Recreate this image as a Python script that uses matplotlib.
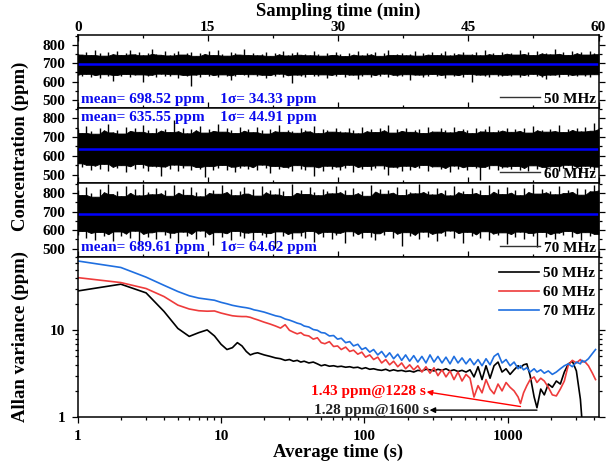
import numpy as np
import matplotlib
matplotlib.use('Agg')
import matplotlib.pyplot as plt
from matplotlib.lines import Line2D
from matplotlib.ticker import MultipleLocator, LogLocator, NullFormatter

plt.rcParams['font.family'] = ['Liberation Serif', 'DejaVu Serif']
plt.rcParams['font.weight'] = 'bold'

# ---------------- data: concentration time series (envelope max / min per time bin, ppm)
hi50 = [752,748,760,745,771,755,742,763,750,768,746,758,774,749,761,744,757,780,752,747,
        765,743,756,769,748,754,762,741,758,751,766,745,773,750,742,760,755,748,777,746,
        759,744,752,764,741,757,749,770,743,755,761,747,753,744,766,750,742,758,746,760,
        752,740,757,748,768,743,755,749,762,741,756,772,746,753,759,744,750,765,742,757,
        748,761,745,754,770,743,758,749,763,747,752,760,744,771,750,757,746,764,753,759,
        748,775,751,762,745,768,754,758,749,780,752,760,746,770,755,763,748,766,757,750]
lo50 = [638,630,642,627,635,619,640,632,604,636,628,641,625,634,639,598,631,637,626,643,
        633,629,640,622,636,631,575,638,627,642,630,635,624,639,633,610,628,641,634,626,
        640,632,637,621,635,629,643,627,634,590,638,630,625,641,633,628,639,620,636,631,
        642,627,634,638,612,630,640,626,635,629,643,624,637,632,628,640,606,634,638,627,
        633,641,629,636,622,639,631,635,627,642,600,634,638,630,625,640,633,628,637,631,
        639,624,636,629,642,632,627,615,638,634,626,641,630,636,628,639,633,625,640,632]
hi60 = [745,722,760,731,718,748,736,772,725,740,719,755,733,746,728,765,738,721,750,735,
        742,727,790,731,748,720,744,736,758,724,741,733,769,729,747,738,722,755,734,743,
        726,752,737,719,745,731,762,728,740,735,723,749,738,730,757,721,744,736,729,751,
        733,725,746,739,720,754,731,742,727,748,736,763,724,741,733,750,728,738,745,722,
        752,734,729,747,740,725,756,732,743,737,721,749,730,744,760,726,739,735,751,728,
        742,733,748,724,757,736,740,729,745,732,766,727,741,738,750,730,755,734,776,743]
lo60 = [560,538,552,526,548,530,557,519,541,535,550,512,544,528,556,533,520,547,538,495,
        543,529,553,518,536,549,525,540,531,485,545,522,537,551,527,542,516,534,548,530,
        539,524,553,533,507,546,528,541,535,519,550,532,526,544,490,538,521,547,530,543,
        527,536,552,514,540,531,546,523,537,549,529,500,542,534,518,547,526,540,533,551,
        520,538,544,529,535,512,548,531,539,525,545,533,470,541,528,550,522,537,543,530,
        546,526,535,519,549,532,541,527,538,545,521,534,552,529,540,514,547,536,525,542]
hi70 = [815,790,832,800,781,825,805,848,795,812,784,838,802,820,788,852,808,794,826,799,
        817,786,842,803,822,791,835,809,783,829,801,815,797,846,806,824,789,812,833,798,
        820,787,840,804,816,793,828,810,785,850,802,819,796,834,807,789,823,812,799,841,
        805,818,791,830,800,813,786,845,809,824,797,816,803,836,790,821,808,799,852,806,
        814,793,828,802,819,788,839,805,811,796,826,801,817,790,843,808,823,795,831,803,
        815,789,827,806,849,798,820,804,812,794,837,801,818,807,829,792,822,810,842,815]
lo70 = [572,595,560,585,548,590,566,578,540,593,570,582,556,597,512,580,563,588,551,594,
        575,559,586,530,592,568,580,555,598,565,577,520,589,562,583,549,596,571,558,587,
        545,590,574,561,584,505,593,567,579,553,588,570,560,595,538,582,565,591,554,576,
        586,528,594,569,578,557,590,564,547,583,572,596,558,581,515,589,566,575,552,592,
        563,580,543,587,571,598,556,584,533,591,567,577,560,594,548,582,573,588,525,579,
        565,592,555,585,570,508,590,561,578,550,587,574,595,562,583,546,589,568,580,575]

means = [698.52, 635.55, 689.61]
sigmas = [34.33, 44.91, 64.62]
freqs = ['50 MHz', '60 MHz', '70 MHz']
time_ticks = [0, 15, 30, 45, 60]

# ---------------- data: Allan deviation
tau = [1, 2, 3, 4, 5, 6, 7, 8, 9, 10,
       11, 12, 13, 14, 15, 16, 17, 18, 20, 22,
       24, 26, 28, 30, 32, 34, 36, 38, 41, 44,
       47, 50, 53, 57, 61, 65, 69, 74, 79, 84,
       90, 96, 102, 109, 116, 124, 132, 141, 150, 160,
       171, 182, 194, 207, 221, 236, 252, 269, 287, 306,
       326, 348, 371, 396, 422, 450, 480, 512, 546, 582,
       621, 662, 706, 753, 803, 856, 913, 974, 1039, 1108,
       1182, 1228, 1290, 1360, 1434, 1529, 1600, 1700, 1800, 1920,
       2048, 2184, 2329, 2484, 2650, 2826, 3014, 3215, 3300, 3429,
       3657, 3900, 4100]
adev50 = [28.4, 34, 27, 16.5, 10.5, 8.5, 9.4, 10.1, 8.6, 6.9,
          6.0, 6.3, 7.2, 6.6, 5.7, 5.2, 5.4, 5.5, 5.2, 5.0,
          4.8, 4.7, 4.5, 4.6, 4.4, 4.5, 4.3, 4.4, 4.2, 4.3,
          4.1, 3.9, 4.0, 3.85, 3.9, 3.8, 3.85, 3.75, 3.8, 3.7,
          3.75, 3.6, 3.7, 3.55, 3.6, 3.5, 3.45, 3.55, 3.4, 3.5,
          3.4, 3.45, 3.35, 3.4, 3.3, 3.45, 3.4, 3.55, 3.5, 3.4,
          3.55, 3.45, 3.6, 3.4, 3.5, 3.35, 3.45, 3.3, 3.5, 2.9,
          3.8, 2.7, 3.9, 2.8, 3.9, 4.3, 3.3, 3.6, 3.1, 3.5,
          3.9, 3.7, 4.0, 4.1, 3.0, 1.7, 1.28, 2.1, 1.8, 2.4,
          2.2, 2.6, 2.4, 3.3, 4.1, 4.4, 3.4, 1.6, 0.9, np.nan,
          np.nan, np.nan, np.nan]
adev60 = [40.5, 35.5, 30.3, 24.5, 19.5, 17.6, 16.8, 16.6, 16.7, 15.8,
          15.2, 14.7, 14.5, 14.4, 14.4, 14.1, 13.6, 13.2, 12.4, 11.8,
          11.2, 10.6, 11.6, 10.0, 9.5, 9.1, 9.4, 8.8, 8.6, 7.9,
          8.2, 7.2, 7.0, 7.4, 6.5, 6.6, 6.0, 6.4, 5.7, 5.9,
          5.3, 5.6, 4.9, 5.2, 4.6, 4.9, 4.2, 4.6, 4.0, 4.4,
          3.8, 4.2, 3.6, 4.0, 3.5, 3.9, 3.3, 3.8, 3.2, 3.7,
          3.0, 3.5, 2.9, 3.4, 2.7, 3.3, 2.6, 3.1, 2.8, 1.7,
          2.3, 1.9, 2.7, 2.1, 1.85, 2.4, 2.0, 2.5, 2.2, 2.0,
          1.7, 1.43, 1.9, 2.3, 2.7, 2.9, 2.5, 2.8, 2.6, 2.2,
          1.8, 1.75, 2.1, 2.6, 4.0, 4.5, 4.2, 4.6, 4.3, 4.4,
          3.9, 3.2, 2.7]
adev70 = [63, 53, 41, 33, 28, 25, 23.5, 22.8, 22.2, 21,
          20.2, 19.4, 18.9, 18.5, 18.2, 17.8, 17.2, 16.9, 16.2, 15.4,
          14.7, 14.3, 13.5, 13.1, 12.6, 12.1, 11.8, 11.2, 10.9, 10.2,
          10.0, 9.4, 9.3, 8.6, 8.7, 7.9, 8.1, 7.2, 7.4, 6.6,
          6.9, 6.0, 6.3, 5.6, 6.0, 5.2, 5.7, 4.9, 5.5, 4.7,
          5.3, 4.5, 5.2, 4.4, 5.1, 4.3, 5.0, 4.2, 5.2, 4.3,
          5.0, 4.2, 4.9, 4.1, 5.0, 4.2, 4.8, 4.1, 4.7, 4.0,
          4.6, 3.9, 4.7, 4.0, 5.0, 5.4, 4.2, 4.6, 3.9, 4.3,
          3.6, 3.9, 3.5, 3.7, 3.3, 3.6, 3.3, 3.5, 3.2, 3.4,
          3.1, 3.3, 3.6, 3.9, 4.1, 3.8, 4.3, 4.1, 4.5, 4.3,
          4.7, 5.4, 6.0]

# annotations
ann_red = (1228, 1.43, '1.43 ppm@1228 s')
ann_blk = (1600, 1.28, '1.28 ppm@1600 s')

# ---------------- style
BLUE_TXT = '#0a0aee'
RED = '#ee3b3b'
BLUE = '#1f6fe0'
FS = 11

fig = plt.figure(figsize=(6.08, 4.62), dpi=100)
L, R = 77.7 / 608, 598.5 / 608
W = R - L
H = 462.0
edges = [35, 108, 183, 257, 417]
axes = []
for i in range(3):
    b = 1 - edges[i + 1] / H
    t = 1 - edges[i] / H
    axes.append(fig.add_axes([L, b, W, t - b]))
ax4 = fig.add_axes([L, 1 - edges[4] / H, W, (edges[4] - edges[3]) / H])

his = [hi50, hi60, hi70]
los = [lo50, lo60, lo70]
text_pos = [(0.006, 0.11), (0.006, 0.88), (0.006, 0.135)]

for i, ax in enumerate(axes):
    hi = np.asarray(his[i], float)
    lo = np.asarray(los[i], float)
    t = np.linspace(0, 60, len(hi))
    # dense core: neighbourhood min of maxima / max of minima
    core_hi = np.minimum(hi, np.minimum(np.r_[hi[1:], hi[-1]], np.r_[hi[0], hi[:-1]]))
    core_lo = np.maximum(lo, np.maximum(np.r_[lo[1:], lo[-1]], np.r_[lo[0], lo[:-1]]))
    ax.fill_between(t, core_lo, core_hi, color='k', lw=0.6)
    ax.vlines(t, lo, hi, color='k', lw=1.0)
    ax.axhline(means[i], color='#0000ff', lw=1.8)
    ax.set_xlim(0, 60)
    ax.set_ylim(455, 855)
    ax.set_yticks([500, 600, 700, 800])
    ax.yaxis.set_minor_locator(MultipleLocator(50))
    ax.set_xticks(time_ticks)
    ax.xaxis.set_minor_locator(MultipleLocator(7.5))
    ax.tick_params(axis='y', which='both', direction='out', left=True, right=True,
                   labelsize=FS, pad=4.5, width=0.9)
    ax.tick_params(axis='y', which='major', length=4.5)
    ax.tick_params(axis='y', which='minor', length=2.5)
    ax.tick_params(axis='x', which='both', direction='in', bottom=True, top=(i == 0),
                   labelbottom=False, labeltop=(i == 0), labelsize=FS, pad=1.0, width=0.9)
    ax.tick_params(axis='x', which='major', length=4.5)
    ax.tick_params(axis='x', which='minor', length=2.5)
    for s in ax.spines.values():
        s.set_linewidth(1.1)
    x0, y0 = text_pos[i]
    ax.text(x0, y0, 'mean= %.2f ppm    1σ= %.2f ppm' % (means[i], sigmas[i]),
            transform=ax.transAxes, color=BLUE_TXT, fontsize=FS, fontweight='bold',
            va='center', ha='left')
    ax.legend(handles=[Line2D([], [], color='#333333', lw=1.0)], labels=[freqs[i]],
              loc='lower right', frameon=False, borderaxespad=0.0, borderpad=0.15,
              handlelength=2.6, handletextpad=0.3, prop={'size': FS, 'weight': 'bold'})

# ---------------- Allan panel
ax4.plot(tau, adev50, color='k', lw=1.2, label=freqs[0])
ax4.plot(tau, adev60, color=RED, lw=1.2, label=freqs[1])
ax4.plot(tau, adev70, color=BLUE, lw=1.2, label=freqs[2])
ax4.set_xscale('log')
ax4.set_yscale('log')
ax4.set_xlim(1, 4300)
ax4.set_ylim(1, 70)
ax4.set_xticks([1, 10, 100, 1000])
ax4.set_xticklabels(['1', '10', '100', '1000'])
ax4.set_yticks([1, 10])
ax4.set_yticklabels(['1', '10'])
ax4.xaxis.set_minor_locator(LogLocator(base=10, subs=range(2, 10), numticks=20))
ax4.yaxis.set_minor_locator(LogLocator(base=10, subs=range(2, 10), numticks=20))
ax4.xaxis.set_minor_formatter(NullFormatter())
ax4.yaxis.set_minor_formatter(NullFormatter())
ax4.tick_params(axis='both', which='both', direction='out', labelsize=FS, width=0.9)
ax4.tick_params(axis='y', which='both', right=True, pad=4.5)
ax4.tick_params(axis='x', which='both', top=False, pad=4.5)
ax4.tick_params(which='major', length=4.5)
ax4.tick_params(which='minor', length=2.5)
for s in ax4.spines.values():
    s.set_linewidth(1.1)
ax4.legend(loc='upper right', bbox_to_anchor=(1.0, 0.96), frameon=False,
           borderaxespad=0.0, borderpad=0.2,
           handlelength=2.6, handletextpad=0.3, labelspacing=0.35,
           prop={'size': FS, 'weight': 'bold'})

ax4.annotate('', xy=(272, 1.95), xytext=(ann_red[0], 1.32),
             arrowprops=dict(arrowstyle='-|>', color='red', lw=1.0, mutation_scale=8,
                             shrinkA=0, shrinkB=0))
ax4.text(268, 1.95, ann_red[2], color='red', fontsize=FS, fontweight='bold', ha='right', va='center')
ax4.annotate('', xy=(285, 1.2), xytext=(ann_blk[0], 1.2),
             arrowprops=dict(arrowstyle='-|>', color='k', lw=1.0, mutation_scale=8,
                             shrinkA=0, shrinkB=0))
ax4.text(281, 1.2, ann_blk[2], color='#222222', fontsize=FS, fontweight='bold', ha='right', va='center')

ax4.set_xlabel('Average time (s)', fontsize=13.5, fontweight='bold', labelpad=1)

fig.text(338 / 608, 1 - 11 / H, 'Sampling time (min)', fontsize=13.5, fontweight='bold',
         ha='center', va='center')
fig.text(20 / 608, 1 - 146 / H, 'Concentration (ppm)', fontsize=13.5, fontweight='bold',
         rotation=90, ha='center', va='center')
fig.text(20 / 608, 1 - 337 / H, 'Allan variance (ppm)', fontsize=13.5, fontweight='bold',
         rotation=90, ha='center', va='center')

fig.savefig('out.png', dpi=100)
